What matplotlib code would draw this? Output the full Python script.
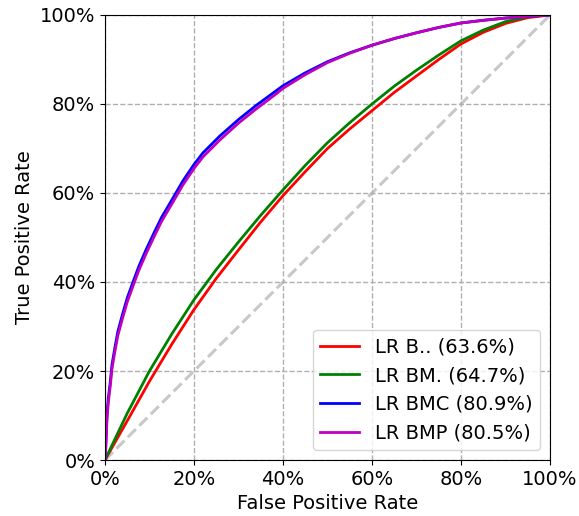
import matplotlib
matplotlib.use("Agg")
import matplotlib.pyplot as plt
from matplotlib.ticker import PercentFormatter

labels = ["LR B.. (63.6%)", "LR BM. (64.7%)", "LR BMC (80.9%)", "LR BMP (80.5%)"]
colors = ["red", "green", "blue", "m"]

fpr_low = [0, 0.05, 0.1, 0.15, 0.2, 0.25, 0.3, 0.35, 0.4, 0.45, 0.5, 0.55, 0.6,
           0.65, 0.7, 0.75, 0.8, 0.85, 0.9, 0.95, 1.0]
tpr_b = [0, 0.088, 0.177, 0.26, 0.338, 0.408, 0.472, 0.535, 0.594, 0.648, 0.70,
         0.744, 0.785, 0.826, 0.863, 0.90, 0.935, 0.961, 0.981, 0.994, 1.0]
tpr_bm = [0, 0.105, 0.20, 0.283, 0.36, 0.428, 0.49, 0.55, 0.607, 0.662, 0.713,
          0.758, 0.80, 0.84, 0.876, 0.91, 0.942, 0.966, 0.985, 0.996, 1.0]

fpr_high = [0, 0.0015, 0.0045, 0.0075, 0.012, 0.0157, 0.022, 0.029, 0.039, 0.050,
            0.063, 0.076, 0.093, 0.11, 0.127, 0.153, 0.175, 0.2, 0.22, 0.258,
            0.3, 0.34, 0.385, 0.4, 0.45, 0.5, 0.55, 0.6, 0.65, 0.7, 0.75, 0.8,
            0.85, 0.9, 0.95, 1.0]
tpr_bmc = [0, 0.026, 0.101, 0.139, 0.176, 0.214, 0.251, 0.289, 0.326, 0.364,
           0.40, 0.435, 0.474, 0.51, 0.545, 0.589, 0.627, 0.664, 0.69, 0.728,
           0.765, 0.797, 0.83, 0.841, 0.87, 0.895, 0.915, 0.932, 0.947, 0.960,
           0.972, 0.982, 0.988, 0.993, 0.997, 1.0]
tpr_bmp = [0, 0.02, 0.092, 0.13, 0.167, 0.205, 0.242, 0.28, 0.317, 0.355,
           0.391, 0.426, 0.465, 0.501, 0.536, 0.58, 0.618, 0.655, 0.681, 0.719,
           0.757, 0.789, 0.823, 0.835, 0.866, 0.893, 0.914, 0.932, 0.947, 0.960,
           0.972, 0.982, 0.988, 0.993, 0.997, 1.0]

series = [(fpr_low, tpr_b), (fpr_low, tpr_bm), (fpr_high, tpr_bmc), (fpr_high, tpr_bmp)]

fig = plt.figure(figsize=(5.79, 5.16), dpi=100)
ax = fig.add_axes([0.1813, 0.1085, 0.7687, 0.8625])

ax.plot([0, 1], [0, 1], linestyle="--", color="#c8c8c8", lw=2.2, zorder=1)
for (x, y), c, l in zip(series, colors, labels):
    ax.plot(x, y, color=c, lw=2, label=l, zorder=2)

ax.set_xlim(0, 1)
ax.set_ylim(0, 1)
ax.xaxis.set_major_formatter(PercentFormatter(1.0, decimals=0))
ax.yaxis.set_major_formatter(PercentFormatter(1.0, decimals=0))
ax.set_xticks([0, 0.2, 0.4, 0.6, 0.8, 1.0])
ax.set_yticks([0, 0.2, 0.4, 0.6, 0.8, 1.0])
ax.grid(True, linestyle="--", color="#b0b0b0", lw=1)
ax.tick_params(labelsize=14)
ax.set_xlabel("False Positive Rate", fontsize=14)
ax.set_ylabel("True Positive Rate", fontsize=14)
ax.legend(loc="lower right", fontsize=14)

fig.savefig("out.png", dpi=100)
